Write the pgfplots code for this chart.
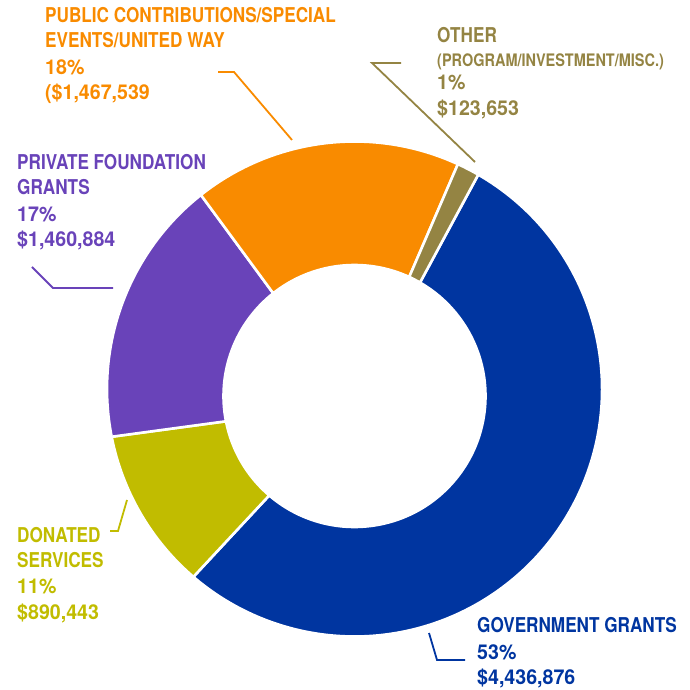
\documentclass[border=0pt]{standalone}
\usepackage{pgfplots}
\usepackage{pgfplotstable}
\pgfplotsset{compat=1.18}
\usepackage{fontspec}
\setmainfont{TeX Gyre Heros}[FakeStretch=0.84]
\newfontfamily\numfont{TeX Gyre Heros}[FakeStretch=0.96]

\definecolor{gov}{HTML}{0035A0}
\definecolor{don}{HTML}{C1BC00}
\definecolor{pri}{HTML}{6943B9}
\definecolor{pub}{HTML}{F98B00}
\definecolor{oth}{HTML}{948443}

% values in thousands of dollars, clockwise order starting at the Other/Government boundary
\pgfplotstableread{
name value
Government 4436.876
Donated 890.443
Private 1460.884
Public 1467.539
Other 123.653
}\revenue

\begin{document}
\begin{tikzpicture}[
  lab/.style={anchor=base west, inner sep=0pt, font=\bfseries\fontsize{20.5}{24}\selectfont},
  num/.style={anchor=base west, inner sep=0pt, font=\numfont\bfseries\fontsize{20.5}{24}\selectfont},
  labs/.style={anchor=base west, inner sep=0pt, font=\bfseries\fontsize{17.3}{20}\selectfont},
]
\pgfplotstablegetelem{0}{value}\of\revenue \let\vA\pgfplotsretval
\pgfplotstablegetelem{1}{value}\of\revenue \let\vB\pgfplotsretval
\pgfplotstablegetelem{2}{value}\of\revenue \let\vC\pgfplotsretval
\pgfplotstablegetelem{3}{value}\of\revenue \let\vD\pgfplotsretval
\pgfplotstablegetelem{4}{value}\of\revenue \let\vE\pgfplotsretval
\pgfmathsetmacro\T{\vA+\vB+\vC+\vD+\vE}
\pgfmathsetmacro\aA{60}
\pgfmathsetmacro\aB{\aA-360*(\vA/\T)}
\pgfmathsetmacro\aC{\aB-360*(\vB/\T)}
\pgfmathsetmacro\aD{\aC-360*(\vC/\T)}
\pgfmathsetmacro\aE{\aD-360*(\vD/\T)}
\pgfmathsetmacro\aF{\aE-360*(\vE/\T)}
\begin{axis}[
  width=689bp, height=690bp, scale only axis,
  xmin=0, xmax=689, ymin=0, ymax=690,
  hide axis, clip=false,
]
\path (axis cs:0,0) rectangle (axis cs:689,690);
\def\sector#1#2#3{%
  \fill[#1, draw=white, line width=2.6bp]
    ([shift={(axis cs:354.5,301)}]#2:247.5bp)
    arc[start angle=#2, end angle=#3, radius=247.5bp]
    -- ([shift={(axis cs:354.5,294)}]#3:131bp)
    arc[start angle=#3, end angle=#2, radius=131bp] -- cycle;}
\sector{gov}{\aA}{\aB}
\sector{don}{\aB}{\aC}
\sector{pri}{\aC}{\aD}
\sector{pub}{\aD}{\aE}
\sector{oth}{\aE}{\aF}

% leader lines
\draw[pub, line width=1.8bp] (axis cs:218,618) -- (axis cs:234,618) -- (axis cs:292,550);
\draw[oth, line width=1.8bp] (axis cs:401,627) -- (axis cs:372,627) -- (axis cs:475,528);
\draw[pri, line width=1.8bp] (axis cs:32,423) -- (axis cs:53,402) -- (axis cs:113,402);
\draw[don, line width=1.8bp] (axis cs:110,159) -- (axis cs:118,159) -- (axis cs:127,190);
\draw[gov, line width=1.8bp] (axis cs:429,57) -- (axis cs:437,30) -- (axis cs:465,30);

% labels
\node[lab, text=pub] at (axis cs:45,667) {PUBLIC CONTRIBUTIONS/SPECIAL};
\node[lab, text=pub] at (axis cs:45,642) {EVENTS/UNITED WAY};
\node[num, text=pub] at (axis cs:45,615) {18\%};
\node[num, text=pub] at (axis cs:45,590) {(\$1,467,539};

\node[lab, text=oth] at (axis cs:437,647) {OTHER};
\node[labs, text=oth] at (axis cs:437,623) {(PROGRAM/INVESTMENT/MISC.)};
\node[num, text=oth] at (axis cs:437,600) {1\%};
\node[num, text=oth] at (axis cs:437,574) {\$123,653};

\node[lab, text=pri] at (axis cs:17,520) {PRIVATE FOUNDATION};
\node[lab, text=pri] at (axis cs:17,495) {GRANTS};
\node[num, text=pri] at (axis cs:17,468) {17\%};
\node[num, text=pri] at (axis cs:17,443) {\$1,460,884};

\node[lab, text=don] at (axis cs:17,147) {DONATED};
\node[lab, text=don] at (axis cs:17,122) {SERVICES};
\node[num, text=don] at (axis cs:17,96) {11\%};
\node[num, text=don] at (axis cs:17,70) {\$890,443};

\node[lab, text=gov] at (axis cs:477,57) {GOVERNMENT GRANTS};
\node[num, text=gov] at (axis cs:477,30) {53\%};
\node[num, text=gov] at (axis cs:477,5) {\$4,436,876};
\end{axis}
\end{tikzpicture}
\end{document}
